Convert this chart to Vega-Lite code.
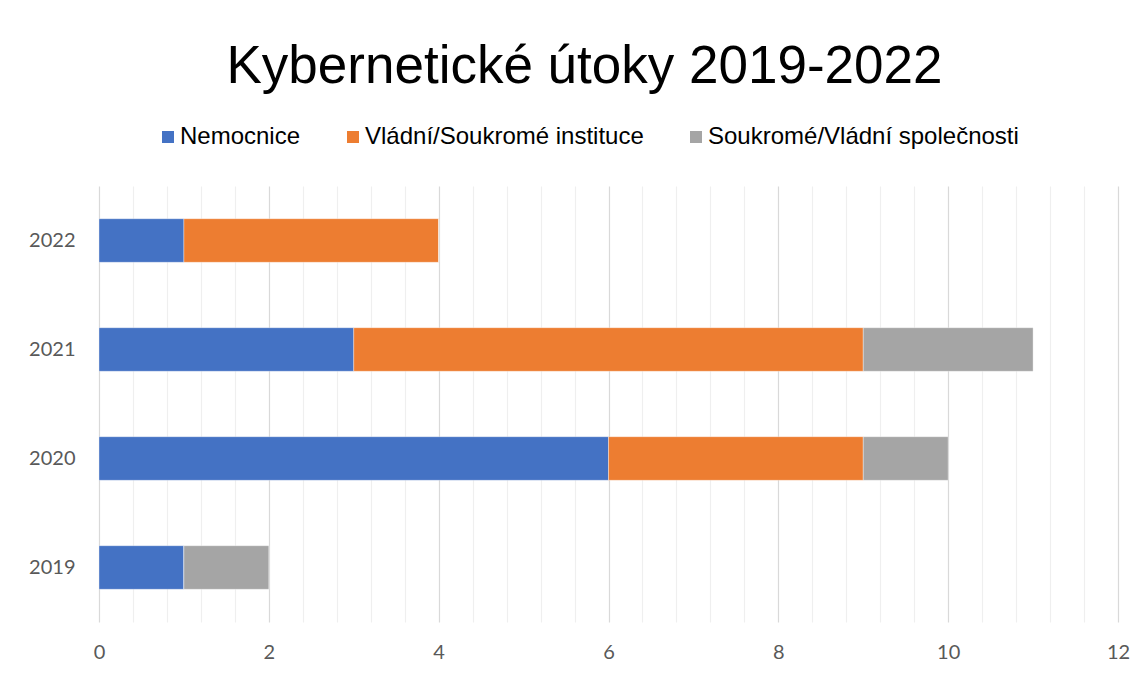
{
  "$schema": "https://vega.github.io/schema/vega-lite/v6.json",
  "width": 1019,
  "height": 436,
  "autosize": {"type": "none"},
  "padding": {"left": 99, "top": 186, "right": 30, "bottom": 53},
  "background": "white",
  "title": {
    "text": "Kybernetické útoky 2019-2022",
    "font": "Liberation Sans",
    "fontSize": 53,
    "fontWeight": "normal",
    "color": "#000000",
    "anchor": "middle",
    "frame": "group",
    "dx": -24,
    "offset": 31
  },
  "data": {
    "values": [
      {"rok": "2022", "kategorie": "Nemocnice", "poradi": 1, "pocet": 1},
      {"rok": "2022", "kategorie": "Vládní/Soukromé instituce", "poradi": 2, "pocet": 3},
      {"rok": "2022", "kategorie": "Soukromé/Vládní společnosti", "poradi": 3, "pocet": 0},
      {"rok": "2021", "kategorie": "Nemocnice", "poradi": 1, "pocet": 3},
      {"rok": "2021", "kategorie": "Vládní/Soukromé instituce", "poradi": 2, "pocet": 6},
      {"rok": "2021", "kategorie": "Soukromé/Vládní společnosti", "poradi": 3, "pocet": 2},
      {"rok": "2020", "kategorie": "Nemocnice", "poradi": 1, "pocet": 6},
      {"rok": "2020", "kategorie": "Vládní/Soukromé instituce", "poradi": 2, "pocet": 3},
      {"rok": "2020", "kategorie": "Soukromé/Vládní společnosti", "poradi": 3, "pocet": 1},
      {"rok": "2019", "kategorie": "Nemocnice", "poradi": 1, "pocet": 1},
      {"rok": "2019", "kategorie": "Vládní/Soukromé instituce", "poradi": 2, "pocet": 0},
      {"rok": "2019", "kategorie": "Soukromé/Vládní společnosti", "poradi": 3, "pocet": 1}
    ]
  },
  "mark": {"type": "bar", "stroke": "white", "strokeWidth": 0.6, "strokeOpacity": 0.6},
  "encoding": {
    "y": {
      "field": "rok",
      "type": "ordinal",
      "sort": "descending",
      "scale": {"paddingInner": 0.6, "paddingOuter": 0.3},
      "axis": {
        "title": null,
        "ticks": false,
        "domain": false,
        "grid": false,
        "labelFont": "Lato",
        "labelFontSize": 20,
        "labelColor": "#595959",
        "labelPadding": 24
      }
    },
    "x": {
      "field": "pocet",
      "type": "quantitative",
      "stack": "zero",
      "scale": {"domain": [0, 12], "nice": false, "zero": true},
      "axis": {
        "title": null,
        "values": [0, 0.4, 0.8, 1.2, 1.6, 2, 2.4, 2.8, 3.2, 3.6, 4, 4.4, 4.8, 5.2, 5.6, 6, 6.4, 6.8, 7.2, 7.6, 8, 8.4, 8.8, 9.2, 9.6, 10, 10.4, 10.8, 11.2, 11.6, 12],
        "format": "~g",
        "labelExpr": "abs(datum.value/2 - round(datum.value/2)) < 0.001 ? datum.label : ''",
        "labelOverlap": false,
        "labelFlush": false,
        "ticks": false,
        "domain": false,
        "grid": true,
        "gridWidth": 1.2,
        "gridColor": {
          "condition": {"test": "abs(datum.value/2 - round(datum.value/2)) < 0.001", "value": "#d9d9d9"},
          "value": "#efefef"
        },
        "labelFont": "Lato",
        "labelFontSize": 20,
        "labelColor": "#595959",
        "labelPadding": 20
      }
    },
    "color": {
      "field": "kategorie",
      "type": "nominal",
      "scale": {
        "domain": ["Nemocnice", "Vládní/Soukromé instituce", "Soukromé/Vládní společnosti"],
        "range": ["#4472C4", "#ED7D31", "#A5A5A5"]
      },
      "legend": {
        "title": null,
        "orient": "none",
        "legendX": 57,
        "legendY": -61,
        "direction": "horizontal",
        "symbolType": "square",
        "symbolSize": 144,
        "symbolStrokeWidth": 0,
        "labelFont": "Liberation Sans",
        "labelFontSize": 24,
        "labelColor": "#000000",
        "labelOffset": 0,
        "columnPadding": 40,
        "labelLimit": 500
      }
    },
    "order": {"field": "poradi", "type": "quantitative"}
  },
  "config": {
    "view": {"stroke": null}
  }
}
